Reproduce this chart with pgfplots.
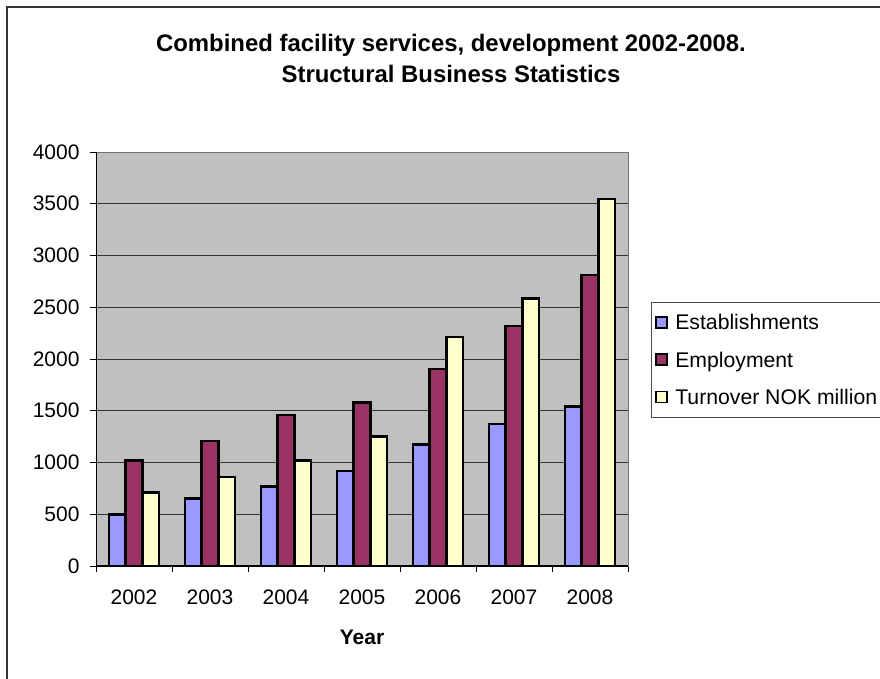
\documentclass[border=0pt]{standalone}
\usepackage{pgfplots}
\pgfplotsset{compat=1.18}
\usepackage{fontspec}
\setmainfont{Liberation Sans}
\definecolor{estc}{HTML}{9999FF}
\definecolor{empc}{HTML}{993366}
\definecolor{turc}{HTML}{FFFFCC}
\definecolor{plotbg}{HTML}{C0C0C0}
\begin{document}
\begin{tikzpicture}[x=1pt,y=1pt]
\useasboundingbox (0,0) rectangle (880,678);
\fill[white] (0,0) rectangle (880,678);
\draw[line width=1.2pt,black!80] (7,-5) -- (7,671) -- (885,671);
\node[font=\bfseries\fontsize{23.9}{31}\selectfont,align=center] at (451,620) {Combined facility services, development 2002-2008.\\Structural Business Statistics};
\begin{axis}[
  at={(96pt,112pt)}, anchor=south west,
  scale only axis, width=532pt, height=414pt,
  ybar=0pt, bar width=16.7pt,
  xmin=-0.5, xmax=6.5, ymin=0, ymax=4000,
  xtick={0,...,6}, xticklabels={2002,2003,2004,2005,2006,2007,2008},
  minor xtick={-0.5,0.5,...,6.5},
  ytick={0,500,...,4000},
  xtick pos=bottom, ytick pos=left,
  major x tick style={draw=none},
  minor x tick style={black, line width=0.8pt},
  y tick style={black, line width=0.8pt},
  tick align=outside, major tick length=6pt, minor tick length=6pt,
  ymajorgrids, major grid style={black!80, line width=0.9pt},
  axis background/.style={fill=plotbg},
  axis line style={black!55, line width=0.9pt},
  ticklabel style={font=\fontsize{21}{24}\selectfont},
  /pgf/number format/assume math mode=true,
  /pgf/number format/1000 sep={},
  yticklabel style={xshift=-7pt},
  xticklabel style={yshift=-14pt},
  xlabel={\bfseries Year},
  xlabel style={font=\fontsize{21}{24}\selectfont, at={(axis description cs:0.5,0)}, anchor=center, yshift=-71pt},
  legend style={at={(1.043,0.638)}, anchor=north west, draw=black!70, line width=0.9pt,
    font=\fontsize{21.2}{24}\selectfont, row sep=16.5pt, inner xsep=4pt, inner ysep=10pt},
  legend cell align=left,
  legend image code/.code={\draw[#1,line width=1.5pt] (0pt,-5pt) rectangle (11pt,6pt); \path (16pt,0pt);},
  every axis plot/.append style={draw=black, line width=2.5pt},
]
\addplot[fill=estc] coordinates {(0,500) (1,650) (2,770) (3,920) (4,1175) (5,1370) (6,1540)};
\addplot[fill=empc] coordinates {(0,1020) (1,1210) (2,1460) (3,1580) (4,1905) (5,2320) (6,2810)};
\addplot[fill=turc] coordinates {(0,710) (1,860) (2,1020) (3,1250) (4,2215) (5,2585) (6,3545)};
\legend{Establishments,Employment,Turnover NOK million}
\draw[black, line width=1.2pt] (rel axis cs:0,0) -- (rel axis cs:0,1);
\draw[black, line width=1.2pt] (rel axis cs:0,0) -- (rel axis cs:1,0);
\end{axis}
\end{tikzpicture}
\end{document}
